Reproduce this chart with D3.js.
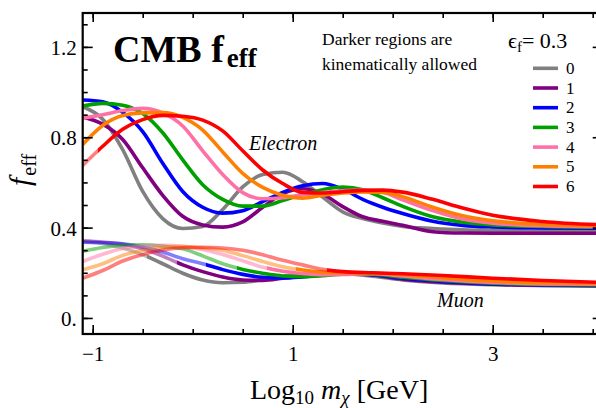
<!DOCTYPE html>
<html>
<head>
<meta charset="utf-8">
<script src="https://cdn.jsdelivr.net/npm/d3@7"></script>
<style>
  body { margin: 0; background: #fff; }
  svg { display: block; }
  svg text { font-family: "Liberation Serif", "DejaVu Serif", serif; }
</style>
</head>
<body>
<div id="chart-area"></div>
<script>
// values (f_eff vs Log10 m_chi)
var epsLabels = ["0", "1", "2", "3", "4", "5", "6"];
var colors = ["#808080", "#800080", "#0000ff", "#00a000", "#ff70a6", "#ff8000", "#ff0000"];

var xElectron = [-1.1, -0.9, -0.7, -0.5, -0.3, -0.1, 0.1, 0.3, 0.5, 0.7, 0.9, 1.1, 1.3, 1.5, 1.7, 1.9, 2.1, 2.4, 2.7, 3.0, 3.5, 4.1];
var electron0 = [0.935, 0.88, 0.745, 0.56, 0.44, 0.396, 0.405, 0.48, 0.58, 0.635, 0.645, 0.603, 0.535, 0.47, 0.44, 0.42, 0.405, 0.396, 0.39, 0.388, 0.387, 0.387];
var electron1 = [0.89, 0.858, 0.79, 0.665, 0.543, 0.45, 0.412, 0.402, 0.425, 0.49, 0.55, 0.572, 0.548, 0.493, 0.448, 0.428, 0.41, 0.382, 0.376, 0.375, 0.375, 0.375];
var electron2 = [0.965, 0.957, 0.91, 0.825, 0.685, 0.56, 0.49, 0.464, 0.475, 0.515, 0.556, 0.585, 0.595, 0.57, 0.525, 0.49, 0.462, 0.428, 0.41, 0.403, 0.399, 0.397];
var electron3 = [0.938, 0.95, 0.942, 0.905, 0.82, 0.7, 0.59, 0.525, 0.495, 0.495, 0.52, 0.546, 0.568, 0.58, 0.568, 0.532, 0.494, 0.448, 0.424, 0.412, 0.405, 0.402];
var electron4 = [0.885, 0.9, 0.918, 0.928, 0.908, 0.85, 0.74, 0.635, 0.555, 0.528, 0.532, 0.545, 0.555, 0.563, 0.566, 0.556, 0.523, 0.475, 0.438, 0.419, 0.408, 0.404];
var electron5 = [0.768, 0.852, 0.896, 0.908, 0.909, 0.888, 0.832, 0.735, 0.64, 0.578, 0.543, 0.53, 0.543, 0.553, 0.558, 0.556, 0.537, 0.49, 0.452, 0.43, 0.414, 0.407];
var electron6 = [0.675, 0.76, 0.835, 0.878, 0.897, 0.893, 0.876, 0.828, 0.74, 0.655, 0.595, 0.556, 0.553, 0.559, 0.565, 0.566, 0.557, 0.525, 0.487, 0.455, 0.427, 0.412];

var xMuon = [-1.1, -0.9, -0.7, -0.5, -0.3, -0.1, 0.1, 0.3, 0.5, 0.7, 0.9, 1.1, 1.3, 1.5, 1.8, 2.1, 2.5, 3.0, 3.5, 4.1];
var muon0 = [0.338, 0.33, 0.31, 0.28, 0.24, 0.198, 0.168, 0.156, 0.158, 0.17, 0.184, 0.194, 0.198, 0.196, 0.185, 0.168, 0.155, 0.147, 0.143, 0.141];
var muon1 = [0.342, 0.336, 0.326, 0.306, 0.274, 0.235, 0.205, 0.181, 0.168, 0.166, 0.176, 0.188, 0.195, 0.198, 0.19, 0.172, 0.158, 0.149, 0.145, 0.143];
var muon2 = [0.335, 0.333, 0.328, 0.314, 0.292, 0.262, 0.24, 0.214, 0.193, 0.18, 0.177, 0.182, 0.19, 0.196, 0.192, 0.176, 0.162, 0.151, 0.146, 0.144];
var muon3 = [0.295, 0.312, 0.322, 0.324, 0.318, 0.306, 0.275, 0.24, 0.215, 0.198, 0.186, 0.183, 0.187, 0.194, 0.194, 0.18, 0.166, 0.154, 0.148, 0.146];
var muon4 = [0.25, 0.282, 0.307, 0.318, 0.322, 0.317, 0.303, 0.281, 0.253, 0.225, 0.207, 0.197, 0.191, 0.193, 0.196, 0.186, 0.17, 0.157, 0.151, 0.149];
var muon5 = [0.213, 0.24, 0.277, 0.3, 0.312, 0.316, 0.31, 0.3, 0.276, 0.25, 0.227, 0.212, 0.203, 0.2, 0.198, 0.192, 0.178, 0.163, 0.156, 0.152];
var muon6 = [0.176, 0.21, 0.252, 0.281, 0.301, 0.311, 0.313, 0.31, 0.3, 0.28, 0.255, 0.235, 0.215, 0.205, 0.2, 0.196, 0.188, 0.176, 0.166, 0.157];

// below these masses the curve is drawn light (not kinematically allowed)
var electronCut = [-2.75, -2.45, -2.15, -1.85, -1.55, -1.25, -0.95];
var muonCut = [-0.46, -0.16, 0.13, 0.44, 0.74, 1.03, 1.34];

var xMajor = [-1, 1, 3];
var xMinor = [-1.0, -0.5, 0, 0.5, 1, 1.5, 2, 2.5, 3, 3.5, 4];
var yMajor = [0, 0.4, 0.8, 1.2];
var yMinor = [0, 0.1, 0.2, 0.3, 0.4, 0.5, 0.6, 0.7, 0.8, 0.9, 1.0, 1.1, 1.2, 1.3];

var electron = [electron0, electron1, electron2, electron3, electron4, electron5, electron6];
var muon = [muon0, muon1, muon2, muon3, muon4, muon5, muon6];

var W = 596, H = 408;
var plotL = 82.7, plotR = 602.7, plotT = 13, plotB = 334;

var svg = d3.select("#chart-area").append("svg")
    .attr("width", W)
    .attr("height", H);

var xScale = d3.scaleLinear().domain([-1.1, 4.1]).range([plotL, plotR]);
var yScale = d3.scaleLinear().domain([-0.071, 1.35]).range([plotB, plotT]);

var defs = svg.append("defs");

// light / dark clip for each curve
function addClips(prefix, cuts) {
  cuts.forEach(function(c, i) {
    var xc = Math.max(plotL, Math.min(plotR, xScale(c)));
    defs.append("clipPath").attr("id", prefix + "-light-" + i)
      .append("rect").attr("x", plotL).attr("y", plotT).attr("width", xc - plotL).attr("height", plotB - plotT);
    defs.append("clipPath").attr("id", prefix + "-dark-" + i)
      .append("rect").attr("x", xc).attr("y", plotT).attr("width", plotR - xc).attr("height", plotB - plotT);
  });
}
addClips("e", electronCut);
addClips("m", muonCut);

var line = d3.line()
    .x(function(d) { return xScale(d[0]); })
    .y(function(d) { return yScale(d[1]); })
    .curve(d3.curveMonotoneX);

function drawFamily(prefix, xs, family) {
  var g = svg.append("g").attr("class", prefix + "-curves");
  family.forEach(function(vals, i) {
    var pts = xs.map(function(x, k) { return [x, vals[k]]; });
    g.append("path")
      .attr("d", line(pts))
      .attr("clip-path", "url(#" + prefix + "-light-" + i + ")")
      .attr("fill", "none")
      .attr("stroke", colors[i])
      .attr("stroke-opacity", 0.5)
      .attr("stroke-width", 3.6);
    g.append("path")
      .attr("d", line(pts))
      .attr("clip-path", "url(#" + prefix + "-dark-" + i + ")")
      .attr("fill", "none")
      .attr("stroke", colors[i])
      .attr("stroke-width", 3.6);
  });
}
drawFamily("m", xMuon, muon);
drawFamily("e", xElectron, electron);

// axes, ticks pointing inward
function styleAxis(sel) {
  sel.attr("font-family", null);
  sel.select(".domain").remove();
  sel.selectAll("line").attr("stroke", "#000").attr("stroke-width", 1.6);
  sel.selectAll("text").attr("fill", "#000").attr("font-size", "21px");
}

svg.append("g").attr("transform", "translate(0," + plotB + ")")
  .call(d3.axisBottom(xScale).tickValues(xMinor).tickSize(-5).tickFormat(""))
  .call(styleAxis);
svg.append("g").attr("transform", "translate(0," + plotB + ")")
  .call(d3.axisBottom(xScale).tickValues(xMajor).tickSize(-9).tickPadding(12)
    .tickFormat(function(d) { return d < 0 ? "\u2212" + Math.abs(d) : d; }))
  .call(styleAxis);
svg.append("g").attr("transform", "translate(0," + plotT + ")")
  .call(d3.axisTop(xScale).tickValues(xMinor).tickSize(-5).tickFormat(""))
  .call(styleAxis);
svg.append("g").attr("transform", "translate(0," + plotT + ")")
  .call(d3.axisTop(xScale).tickValues(xMajor).tickSize(-9).tickFormat(""))
  .call(styleAxis);

svg.append("g").attr("transform", "translate(" + plotL + ",0)")
  .call(d3.axisLeft(yScale).tickValues(yMinor).tickSize(-5).tickFormat(""))
  .call(styleAxis);
svg.append("g").attr("transform", "translate(" + plotL + ",0)")
  .call(d3.axisLeft(yScale).tickValues(yMajor).tickSize(-10).tickPadding(6)
    .tickFormat(function(d) { return d === 0 ? "0." : d3.format(".1f")(d); }))
  .call(styleAxis)
  .selectAll("text").attr("dy", "0.36em");
svg.append("g").attr("transform", "translate(" + plotR + ",0)")
  .call(d3.axisRight(yScale).tickValues(yMinor).tickSize(-5).tickFormat(""))
  .call(styleAxis);
svg.append("g").attr("transform", "translate(" + plotR + ",0)")
  .call(d3.axisRight(yScale).tickValues(yMajor).tickSize(-10).tickFormat(""))
  .call(styleAxis);

// frame
svg.append("rect")
  .attr("x", plotL).attr("y", plotT)
  .attr("width", plotR - plotL).attr("height", plotB - plotT)
  .attr("fill", "none").attr("stroke", "#000").attr("stroke-width", 2.2);

// x axis title
var xt = svg.append("text")
  .attr("x", 250).attr("y", 399)
  .attr("font-size", "28px").attr("fill", "#000");
xt.append("tspan").text("Log");
xt.append("tspan").attr("font-size", "19px").attr("dy", 5).text("10");
xt.append("tspan").attr("dy", -5).attr("dx", 7).attr("font-style", "italic").text("m");
xt.append("tspan").attr("font-size", "19px").attr("dy", 5).attr("font-style", "italic").text("\u03c7");
xt.append("tspan").attr("dy", -5).attr("dx", 7).text("[GeV]");

// y axis title
var yt = svg.append("text")
  .attr("transform", "translate(30,170) rotate(-90)")
  .attr("text-anchor", "middle")
  .attr("font-size", "30px").attr("fill", "#000");
yt.append("tspan").attr("font-style", "italic").text("f");
yt.append("tspan").attr("font-size", "20px").attr("dy", 6).attr("dx", 2).text("eff");

// title
var title = svg.append("text")
  .attr("x", 113).attr("y", 62)
  .attr("font-size", "38px").attr("font-weight", "bold").attr("fill", "#000");
title.append("tspan").text("CMB f");
title.append("tspan").attr("font-size", "27px").attr("dy", 5).attr("dx", 3).text("eff");

// note
svg.append("text").attr("x", 322).attr("y", 45).attr("font-size", "17.5px").text("Darker regions are");
svg.append("text").attr("x", 322).attr("y", 70).attr("font-size", "17.5px").text("kinematically allowed");

// curve labels
svg.append("text").attr("x", 249).attr("y", 150).attr("font-size", "20px")
  .attr("font-style", "italic").text("Electron");
svg.append("text").attr("x", 437).attr("y", 307).attr("font-size", "20px")
  .attr("font-style", "italic").text("Muon");

// legend
var eps = svg.append("text").attr("x", 508).attr("y", 48).attr("font-size", "22px");
eps.append("tspan").text("\u03f5");
eps.append("tspan").attr("font-size", "15px").attr("dy", 4).text("f");
eps.append("tspan").attr("dy", -4).text("= 0.3");

var legY = d3.scalePoint().domain(epsLabels).range([68.3, 186.5]);
var leg = svg.append("g").attr("class", "legend");
epsLabels.forEach(function(lab, i) {
  leg.append("line")
    .attr("x1", 533).attr("x2", 558)
    .attr("y1", legY(lab)).attr("y2", legY(lab))
    .attr("stroke", colors[i]).attr("stroke-width", 3.6);
  leg.append("text")
    .attr("x", 566).attr("y", legY(lab) + 5.5)
    .attr("font-size", "17px").text(lab);
});
</script>
</body>
</html>
